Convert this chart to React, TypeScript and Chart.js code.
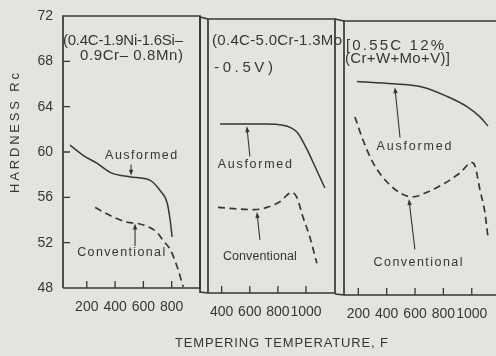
import React, { useEffect, useRef } from "react";
import { Chart, registerables } from "chart.js";

Chart.register(...registerables);

// ---------------- data ----------------
const hardnessTicks = [48, 52, 56, 60, 64, 68, 72];
const panel1TempTicks = [200, 400, 600, 800];
const panel2TempTicks = [400, 600, 800, 1000];
const panel3TempTicks = [200, 400, 600, 800, 1000];

// Panel 1: 0.4C-1.9Ni-1.6Si-0.9Cr-0.8Mn
const p1AusTemp = [82, 174, 273, 365, 506, 648, 718, 768, 789, 803];
const p1AusHard = [60.6, 59.7, 59.0, 58.2, 57.8, 57.5, 56.6, 55.5, 54.0, 52.5];
const p1ConvTemp = [259, 365, 485, 556, 633, 697, 739, 789, 838, 881];
const p1ConvHard = [55.1, 54.4, 53.8, 53.7, 53.4, 52.9, 52.2, 51.4, 49.9, 48.1];

// Panel 2: 0.4C-5.0Cr-1.3Mo-0.5V
const p2AusTemp = [388, 530, 707, 836, 935, 1006, 1063, 1134];
const p2AusHard = [62.8, 62.8, 62.8, 62.7, 62.1, 60.6, 59.1, 57.2];
const p2ConvTemp = [374, 637, 722, 814, 899, 934, 977, 1027, 1077];
const p2ConvHard = [55.5, 55.3, 55.5, 56.0, 56.8, 56.4, 54.7, 52.9, 50.6];

// Panel 3: 0.55C 12% (Cr+W+Mo+V)
const p3AusTemp = [191, 445, 656, 825, 966, 1058, 1114];
const p3AusHard = [66.7, 66.5, 66.2, 65.4, 64.5, 63.6, 62.8];
const p3ConvTemp = [176, 232, 303, 402, 515, 585, 684, 797, 917, 1002, 1023, 1058, 1093, 1114];
const p3ConvHard = [63.6, 61.6, 59.6, 57.9, 56.8, 56.6, 57.0, 57.7, 58.7, 59.6, 59.3, 57.2, 55.2, 53.1];

const yTitle = "HARDNESS Rc";
const xTitle = "TEMPERING TEMPERATURE, F";

// ---------------- style ----------------
const W = 496;
const H = 356;
const FONT = "'Liberation Sans', 'DejaVu Sans', sans-serif";
const INK = "#363636";
const PAPER = "#e4e4de";

type Label = { text: string; x: number; y: number; width: number };
type Arrow = { x0: number; y0: number; x1: number; y1: number };
type TitleLine = { text: string; left: number; right: number; y: number };

type Panel = {
  frame: { left: number; right: number; top: number; bottom: number };
  xMin: number;
  xMax: number;
  xTicks: number[];
  showY: boolean;
  rightBorder: boolean;
  extraLeftLine?: number;
  connectFrom?: number;
  aus: [number[], number[]];
  conv: [number[], number[]];
  titleLines: TitleLine[];
  labels: Label[];
  arrows: Arrow[];
  tickPad: number;
  page?: boolean;
};

const panels: Panel[] = [
  {
    frame: { left: 63, right: 200, top: 16, bottom: 288 },
    xMin: 32,
    xMax: 1000,
    xTicks: panel1TempTicks,
    showY: true,
    rightBorder: true,
    aus: [p1AusTemp, p1AusHard],
    conv: [p1ConvTemp, p1ConvHard],
    titleLines: [
      { text: "(0.4C-1.9Ni-1.6Si–", left: 63, right: 183, y: 41 },
      { text: "0.9Cr– 0.8Mn)", left: 80, right: 183, y: 56 },
    ],
    labels: [
      { text: "Ausformed", x: 584, y: 59.65, width: 72 },
      { text: "Conventional", x: 443, y: 51.1, width: 88 },
    ],
    arrows: [
      { x0: 513, y0: 58.9, x1: 513, y1: 57.9 },
      { x0: 541, y0: 51.7, x1: 541, y1: 53.7 },
    ],
    tickPad: 11,
    page: true,
  },
  {
    frame: { left: 208, right: 335, top: 19, bottom: 293 },
    xMin: 303,
    xMax: 1206,
    xTicks: panel2TempTicks,
    showY: false,
    rightBorder: true,
    extraLeftLine: 200,
    connectFrom: 200,
    aus: [p2AusTemp, p2AusHard],
    conv: [p2ConvTemp, p2ConvHard],
    titleLines: [
      { text: "(0.4C-5.0Cr-1.3Mo", left: 212, right: 342, y: 41 },
      { text: "-0.5V)", left: 214, right: 273, y: 68 },
    ],
    labels: [
      { text: "Ausformed", x: 636, y: 59.25, width: 74 },
      { text: "Conventional", x: 672, y: 51.2, width: 74 },
    ],
    arrows: [
      { x0: 601, y0: 59.96, x1: 579, y1: 62.6 },
      { x0: 672, y0: 52.66, x1: 651, y1: 55.1 },
    ],
    tickPad: 11,
  },
  {
    frame: { left: 344, right: 496, top: 21, bottom: 295 },
    xMin: 99,
    xMax: 1171,
    xTicks: panel3TempTicks,
    showY: false,
    rightBorder: false,
    connectFrom: 335,
    aus: [p3AusTemp, p3AusHard],
    conv: [p3ConvTemp, p3ConvHard],
    titleLines: [
      { text: "[0.55C 12%", left: 346, right: 444, y: 46 },
      { text: "(Cr+W+Mo+V)]", left: 345, right: 450, y: 59 },
    ],
    labels: [
      { text: "Ausformed", x: 593, y: 61.0, width: 75 },
      { text: "Conventional", x: 621, y: 50.8, width: 89 },
    ],
    arrows: [
      { x0: 494, y0: 61.8, x1: 458, y1: 66.2 },
      { x0: 599, y0: 52.0, x1: 557, y1: 56.4 },
    ],
    tickPad: 11,
  },
];

function fitText(
  ctx: CanvasRenderingContext2D,
  text: string,
  left: number,
  right: number,
  y: number,
  size: number
) {
  ctx.save();
  ctx.font = `${size}px ${FONT}`;
  (ctx as any).letterSpacing = "0px";
  const w = ctx.measureText(text).width;
  const n = Math.max(text.length - 1, 1);
  const sp = (right - left - w) / n;
  (ctx as any).letterSpacing = `${sp}px`;
  ctx.fillStyle = INK;
  ctx.textAlign = "left";
  ctx.textBaseline = "middle";
  ctx.fillText(text, left, y);
  ctx.restore();
}

function drawArrow(ctx: CanvasRenderingContext2D, x0: number, y0: number, x1: number, y1: number) {
  const ang = Math.atan2(y1 - y0, x1 - x0);
  const len = 6;
  const half = 2.2;
  ctx.beginPath();
  ctx.moveTo(x0, y0);
  ctx.lineTo(x1 - Math.cos(ang) * 3, y1 - Math.sin(ang) * 3);
  ctx.stroke();
  ctx.beginPath();
  ctx.moveTo(x1, y1);
  ctx.lineTo(x1 - len * Math.cos(ang) + half * Math.sin(ang), y1 - len * Math.sin(ang) - half * Math.cos(ang));
  ctx.lineTo(x1 - len * Math.cos(ang) - half * Math.sin(ang), y1 - len * Math.sin(ang) + half * Math.cos(ang));
  ctx.closePath();
  ctx.fill();
}

function makeOverlay(p: Panel) {
  return {
    id: "overlay",
    afterDraw(chart: any) {
      const ctx: CanvasRenderingContext2D = chart.ctx;
      const a = chart.chartArea;
      const xs = chart.scales.x;
      const ys = chart.scales.y;
      ctx.save();
      ctx.strokeStyle = INK;
      ctx.fillStyle = INK;
      ctx.lineWidth = 1.7;
      // frame
      ctx.beginPath();
      ctx.moveTo(a.left, a.bottom);
      ctx.lineTo(a.left, a.top);
      ctx.lineTo(a.right, a.top);
      if (p.rightBorder) ctx.lineTo(a.right, a.bottom);
      else ctx.moveTo(a.right, a.bottom);
      ctx.lineTo(a.left, a.bottom);
      ctx.stroke();
      if (p.extraLeftLine !== undefined) {
        ctx.beginPath();
        ctx.moveTo(p.extraLeftLine, a.top - 3);
        ctx.lineTo(p.extraLeftLine, a.bottom);
        ctx.stroke();
      }
      if (p.connectFrom !== undefined) {
        ctx.beginPath();
        ctx.moveTo(p.connectFrom, a.top - 2);
        ctx.lineTo(a.left, a.top);
        ctx.moveTo(p.connectFrom, a.bottom - 1);
        ctx.lineTo(a.left, a.bottom);
        ctx.stroke();
      }
      // inward tick marks
      ctx.lineWidth = 1.3;
      ctx.beginPath();
      for (const v of p.xTicks) {
        const px = xs.getPixelForValue(v);
        ctx.moveTo(px, a.bottom);
        ctx.lineTo(px, a.bottom - 7);
      }
      if (p.showY) {
        for (const v of hardnessTicks.slice(1, -1)) {
          const py = ys.getPixelForValue(v);
          ctx.moveTo(a.left, py);
          ctx.lineTo(a.left + 7, py);
        }
      }
      ctx.stroke();
      // composition titles
      for (const t of p.titleLines) fitText(ctx, t.text, t.left, t.right, t.y, 15);
      // curve labels
      for (const l of p.labels) {
        const cx = xs.getPixelForValue(l.x);
        const cy = ys.getPixelForValue(l.y);
        fitText(ctx, l.text, cx - l.width / 2, cx + l.width / 2, cy, 12.5);
      }
      // arrows
      ctx.lineWidth = 1.1;
      for (const r of p.arrows) {
        drawArrow(
          ctx,
          xs.getPixelForValue(r.x0),
          ys.getPixelForValue(r.y0),
          xs.getPixelForValue(r.x1),
          ys.getPixelForValue(r.y1)
        );
      }
      if (p.page) {
        // axis titles for the whole figure
        ctx.save();
        ctx.translate(15, 133);
        ctx.rotate(-Math.PI / 2);
        fitText(ctx, yTitle, -60, 60, 0, 13);
        ctx.restore();
        fitText(ctx, xTitle, 175, 388, 343, 13);
      }
      ctx.restore();
    },
  };
}

function buildConfig(p: Panel): any {
  const XH = 40;
  const YW = p.showY ? 40 : 0;
  const f = p.frame;
  const line = (d: [number[], number[]], dashed: boolean) => ({
    data: d[0].map((t, i) => ({ x: t, y: d[1][i] })),
    borderColor: INK,
    borderWidth: dashed ? 1.7 : 1.5,
    borderDash: dashed ? [7, 4.5] : [],
    pointRadius: 0,
    fill: false,
    cubicInterpolationMode: "monotone",
  });
  return {
    type: "line",
    data: { datasets: [line(p.aus, false), line(p.conv, true)] },
    options: {
      responsive: false,
      animation: false,
      events: [],
      layout: {
        padding: {
          left: f.left - YW,
          right: W - f.right,
          top: f.top,
          bottom: H - f.bottom - XH,
        },
      },
      plugins: { legend: { display: false }, tooltip: { enabled: false }, title: { display: false } },
      scales: {
        x: {
          type: "linear",
          min: p.xMin,
          max: p.xMax,
          grid: { display: false, drawTicks: false },
          border: { display: false },
          afterBuildTicks: (s: any) => {
            s.ticks = p.xTicks.map((v) => ({ value: v }));
          },
          afterFit: (s: any) => {
            s.height = XH;
            s.paddingLeft = 0;
            s.paddingRight = 0;
          },
          ticks: {
            autoSkip: false,
            maxRotation: 0,
            padding: p.tickPad,
            color: INK,
            font: { family: FONT, size: 14 },
            callback: (v: any) => String(v),
          },
        },
        y: {
          type: "linear",
          display: p.showY,
          min: 48,
          max: 72,
          grid: { display: false, drawTicks: false },
          border: { display: false },
          afterBuildTicks: (s: any) => {
            s.ticks = hardnessTicks.map((v) => ({ value: v }));
          },
          afterFit: (s: any) => {
            s.width = YW;
            s.paddingTop = 0;
            s.paddingBottom = 0;
          },
          ticks: {
            padding: 10,
            color: INK,
            font: { family: FONT, size: 14 },
            callback: (v: any) => String(v),
          },
        },
      },
    },
    plugins: [makeOverlay(p)],
  };
}

function PanelCanvas({ p }: { p: Panel }) {
  const ref = useRef<HTMLCanvasElement | null>(null);
  useEffect(() => {
    if (!ref.current) return;
    const chart = new Chart(ref.current, buildConfig(p));
    return () => chart.destroy();
  }, [p]);
  return (
    <canvas
      ref={ref}
      width={W}
      height={H}
      style={{ position: "absolute", left: 0, top: 0, width: W, height: H }}
    />
  );
}

export default function App() {
  return (
    <div
      style={{
        position: "fixed",
        left: 0,
        top: 0,
        width: W,
        height: H,
        background: PAPER,
        overflow: "hidden",
      }}
    >
      {panels.map((p, i) => (
        <PanelCanvas key={i} p={p} />
      ))}
    </div>
  );
}
